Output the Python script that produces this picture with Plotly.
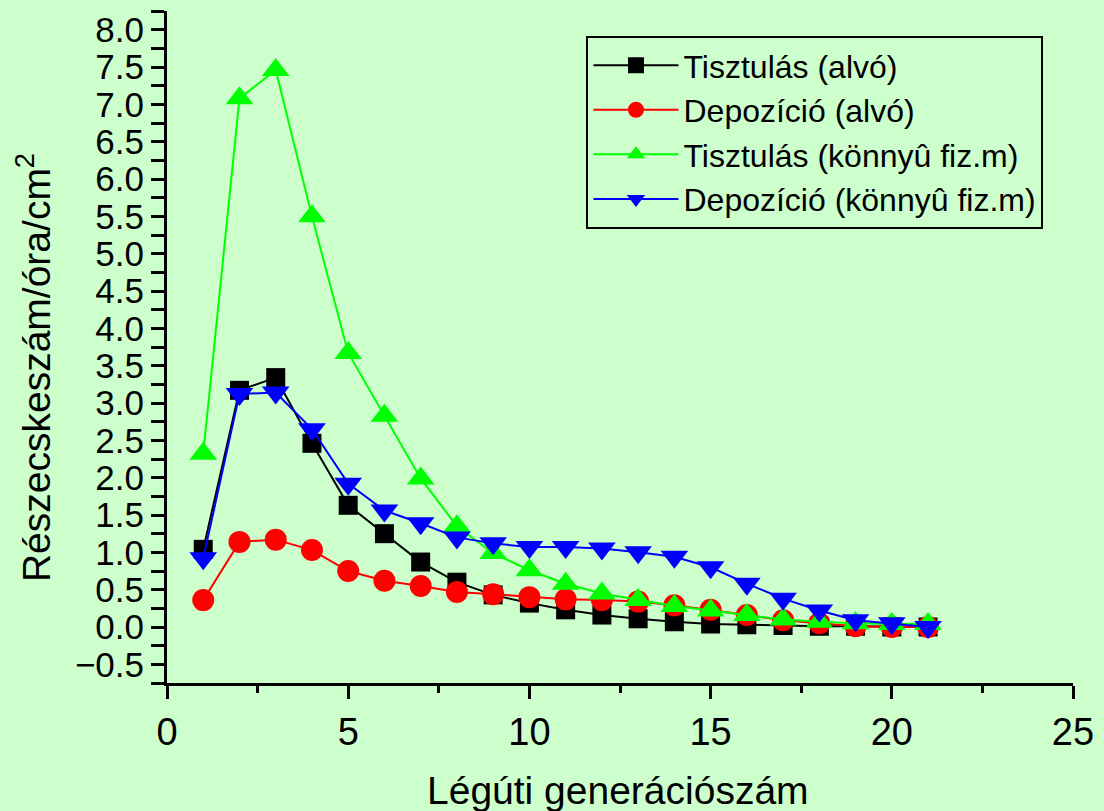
import plotly.graph_objects as go

gen = list(range(1, 22))
tiszt_alvo = [1.04, 3.17, 3.34, 2.46, 1.63, 1.25, 0.87, 0.60, 0.43, 0.32, 0.23, 0.16, 0.11, 0.07, 0.04, 0.03, 0.02, 0.01, 0.01, 0.00, 0.00]
depo_alvo = [0.36, 1.14, 1.17, 1.03, 0.75, 0.62, 0.55, 0.47, 0.44, 0.40, 0.37, 0.36, 0.34, 0.29, 0.23, 0.16, 0.09, 0.05, 0.01, 0.00, 0.00]
tiszt_konnyu = [2.32, 7.08, 7.46, 5.50, 3.67, 2.83, 1.99, 1.35, 0.99, 0.76, 0.58, 0.45, 0.36, 0.28, 0.22, 0.16, 0.10, 0.07, 0.05, 0.04, 0.04]
depo_konnyu = [0.92, 3.12, 3.14, 2.65, 1.92, 1.56, 1.39, 1.20, 1.12, 1.07, 1.07, 1.05, 1.00, 0.94, 0.80, 0.58, 0.38, 0.22, 0.09, 0.05, 0.00]

names = ["Tisztulás (alvó)", "Depozíció (alvó)", "Tisztulás (könnyû fiz.m)", "Depozíció (könnyû fiz.m)"]
series = [tiszt_alvo, depo_alvo, tiszt_konnyu, depo_konnyu]
colors = ["#000000", "#FF0000", "#00FF00", "#0000FF"]
symbols = ["square", "circle", "triangle-up", "triangle-down"]
sizes = [19, 22, 24, 24]

FONT = "Liberation Sans, Arial, sans-serif"
BG = "#CCFFCC"

fig = go.Figure()
for n, s, c, sym, sz in zip(names, series, colors, symbols, sizes):
    fig.add_trace(go.Scatter(
        x=gen, y=s, name=n, mode="lines+markers",
        line=dict(color=c, width=2),
        marker=dict(symbol=sym, size=sz, color=c, line=dict(width=0)),
    ))

fig.update_layout(
    width=1104, height=811,
    margin=dict(l=167, r=24, t=10, b=128),
    paper_bgcolor=BG, plot_bgcolor=BG,
    font=dict(family=FONT, color="black"),
    showlegend=True,
    legend=dict(
        x=0.463, y=0.963, xanchor="left", yanchor="top",
        bgcolor=BG, bordercolor="black", borderwidth=2,
        font=dict(size=32, family=FONT),
        itemwidth=85, tracegroupgap=0,
    ),
    xaxis=dict(
        range=[0, 25], dtick=5, tick0=0,
        showgrid=False, zeroline=False,
        showline=True, linecolor="black", linewidth=3,
        ticks="outside", ticklen=13, tickwidth=3, tickcolor="black",
        tickfont=dict(size=38, family=FONT),
        minor=dict(dtick=2.5, ticks="outside", ticklen=7, tickwidth=3, tickcolor="black", showgrid=False),
    ),
    yaxis=dict(
        range=[-0.75, 8.25], dtick=0.5, tick0=0, tickformat=".1f",
        showgrid=False, zeroline=False,
        showline=True, linecolor="black", linewidth=3,
        ticks="outside", ticklen=13, tickwidth=3, tickcolor="black",
        tickfont=dict(size=35, family=FONT),
        minor=dict(dtick=0.25, ticks="outside", ticklen=13, tickwidth=3, tickcolor="black", showgrid=False),
    ),
    annotations=[
        dict(text="Légúti generációszám", xref="paper", yref="paper",
             x=0.498, y=-0.160, xanchor="center", yanchor="middle",
             showarrow=False, font=dict(size=39, family=FONT)),
        dict(text="Részecskeszám/óra/cm<sup>2</sup>", xref="paper", yref="paper",
             x=-0.148, y=0.47, xanchor="center", yanchor="middle", textangle=-90,
             showarrow=False, font=dict(size=39, family=FONT)),
    ],
)

fig.write_html("out.html")
